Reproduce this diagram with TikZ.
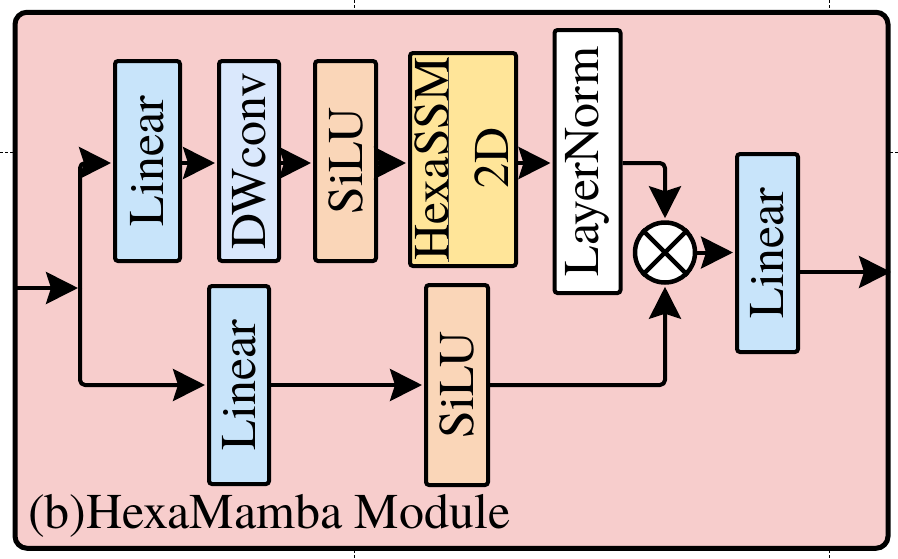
\documentclass[tikz,border=0pt]{standalone}
\usepackage{fontspec}
\setmainfont{TeX Gyre Termes}
\usetikzlibrary{arrows.meta}
\definecolor{bgpink}{HTML}{F7CDCC}
\definecolor{linblue}{HTML}{C8E4FA}
\definecolor{dwblue}{HTML}{DAE8FC}
\definecolor{peach}{HTML}{FAD6B8}
\definecolor{hexyellow}{HTML}{FFE599}
\begin{document}
\begin{tikzpicture}[x=1pt,y=-1pt,
  blk/.style={draw=black, line width=4pt, rounded corners=3pt, inner sep=0pt, font=\fontsize{50}{55}\selectfont},
  txt/.style={inner sep=0pt, font=\fontsize{50}{55}\selectfont},
  arr/.style={line width=4pt, -{Stealth[length=32pt,width=32pt,inset=5pt]}, line join=round, rounded corners=5pt, shorten >=2pt},
  guide/.style={dash pattern=on 3pt off 2pt, line width=0.7pt}]
\useasboundingbox (0,0) rectangle (898,558);
% guide marks behind the frame
\draw[guide] (354,0) -- (354,558);
\draw[guide] (829,0) -- (829,558);
\draw[guide] (0,152) -- (898,152);
% frame
\node[draw, line width=5pt, rounded corners=12pt, fill=bgpink, minimum width=873pt, minimum height=536pt, inner sep=0pt] (frame) at (451.5,280.25) {};
% top row
\node[blk, fill=linblue, minimum width=65pt, minimum height=200pt] (lin1) at (147.5,161) {\rotatebox{90}{Linear}};
\node[blk, fill=dwblue, minimum width=60pt, minimum height=200pt] (dw) at (249,161) {\rotatebox{90}{DWconv}};
\node[blk, fill=peach, minimum width=61pt, minimum height=200pt] (silu1) at (345.5,161) {\rotatebox{90}{SiLU}};
\node[blk, fill=hexyellow, minimum width=106pt, minimum height=213pt] (hex) at (463,159.5) {};
\node[txt, rotate=90, anchor=base] (hexa1) at (448,158.5) {HexaSSM};
\node[txt, rotate=90, anchor=base] (hexa2) at (508,158) {2D};
\draw[line width=0.8pt, black!75] (448,57) -- (448,262);
\node[blk, fill=white, minimum width=66pt, minimum height=263pt] (ln) at (587.5,161.5) {\rotatebox{90}{LayerNorm}};
% multiply
\node[draw, circle, line width=4.5pt, fill=white, minimum size=60pt, inner sep=0pt] (mul) at (665,252.5) {};
\draw[line width=4.5pt] (mul.north east) -- (mul.south west) (mul.north west) -- (mul.south east);
% right linear
\node[blk, fill=linblue, minimum width=61pt, minimum height=198pt] (lin3) at (767.5,253) {\rotatebox{90}{Linear}};
% bottom row
\node[blk, fill=linblue, minimum width=60pt, minimum height=198pt] (lin2) at (239,385) {\rotatebox{90}{Linear}};
\node[blk, fill=peach, minimum width=62pt, minimum height=200pt] (silu2) at (457,385) {\rotatebox{90}{SiLU}};
% title
\node[txt, anchor=base west] (title) at (28,528) {(b)HexaMamba Module};
% connectors
\coordinate (r1) at (0,163);
\coordinate (inp) at (13,288);
\coordinate (jn) at (80,288);
\coordinate (outp) at (893,272);
\draw[arr] (inp) -- (jn);
\draw[arr] (jn) |- (lin1.west |- r1);
\draw[arr] (jn) |- (lin2.west);
\draw[arr] (lin1.east |- r1) -- (dw.west |- r1);
\draw[arr] (dw.east |- r1) -- (silu1.west |- r1);
\draw[arr] (silu1.east |- r1) -- (hex.west |- r1);
\draw[arr] (hex.east |- r1) -- (ln.west |- r1);
\draw[arr] (ln.east |- r1) -| (mul.north);
\draw[arr] (lin2.east) -- (silu2.west);
\draw[arr] (silu2.east) -| (mul.south);
\draw[arr] (mul.east) -- (lin3.west |- mul.east);
\draw[arr] (lin3.east |- outp) -- (outp);
\end{tikzpicture}
\end{document}
